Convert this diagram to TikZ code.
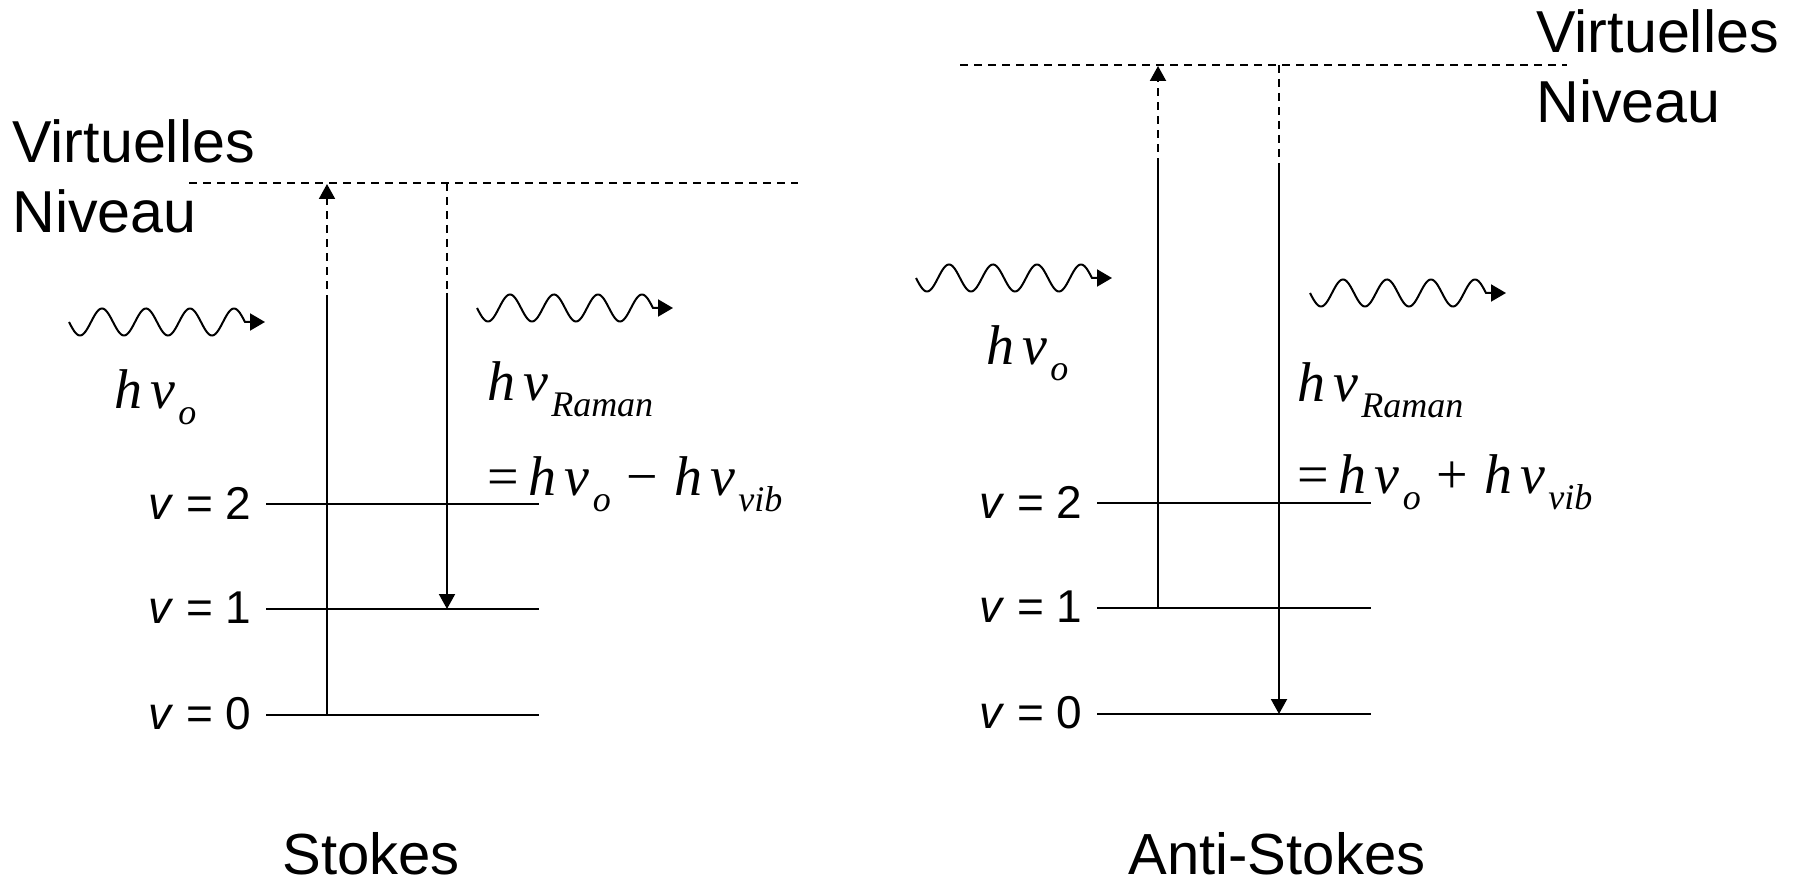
\documentclass[tikz,border=0pt]{standalone}
\usepackage{fontspec}
\setmainfont{Liberation Sans}
\newfontfamily\tms{Liberation Serif}
\usetikzlibrary{arrows.meta}
\newcommand\subl[1]{\raisebox{-8pt}{\fontsize{18}{21}\selectfont #1}}
\newcommand\hnu{h\hspace{4pt}ν\hspace{1.5pt}}
\newcommand\wavearrow[4]{%
  \coordinate (#3) at (#1,#2);
  \coordinate (#4) at (#1+196,#2);
  \draw[wave] plot[domain=0:176, samples=140, smooth] ({#1+\x},{#2+13.5*sin(8.1818*\x)}) -- (#4);}
\begin{document}
\begin{tikzpicture}[x={(0.5pt,0)}, y={(0,-0.5pt)},
  lvl/.style={line width=1pt},
  trans/.style={line width=1pt},
  virt/.style={line width=1pt, dash pattern=on 4pt off 3pt},
  tipA/.style={-{Triangle[length=7.5pt,width=8pt]}},
  wave/.style={line width=1pt, -{Triangle[length=7.5pt,width=8.5pt]}},
  lbl/.style={inner sep=0pt, anchor=east, font=\fontsize{23}{27}\selectfont},
  big/.style={inner sep=0pt, anchor=base west, font=\fontsize{29.6}{34}\selectfont},
  titletext/.style={inner sep=0pt, anchor=base, font=\fontsize{29}{34}\selectfont},
  mth/.style={inner sep=0pt, anchor=base west, font=\tms\itshape\fontsize{28}{32}\selectfont}]
\useasboundingbox (0,0) rectangle (1800,887);

% ---------------- Stokes (left) ----------------
\coordinate (LVa) at (189,183); \coordinate (LVb) at (798,183);
\draw[virt] (LVa) -- (LVb);
\node[big] (lvirt) at (12,163) {Virtuelles};
\node[big] (lniv) at (12,233) {Niveau};

\coordinate (L2a) at (266,504); \coordinate (L2b) at (539,504);
\coordinate (L1a) at (266,609); \coordinate (L1b) at (539,609);
\coordinate (L0a) at (266,715); \coordinate (L0b) at (539,715);
\draw[lvl] (L2a) -- (L2b);
\draw[lvl] (L1a) -- (L1b);
\draw[lvl] (L0a) -- (L0b);
\node[lbl] (l2) at (252,503) {\textit{v} = 2};
\node[lbl] (l1) at (252,608) {\textit{v} = 1};
\node[lbl] (l0) at (252,714) {\textit{v} = 0};

\coordinate (LU0) at (327,715); \coordinate (LUs) at (327,303); \coordinate (LUt) at (327,184);
\draw[trans] (LU0) -- (LUs);
\draw[virt,tipA] (LUs) -- (LUt);
\coordinate (LD0) at (447,183); \coordinate (LDs) at (447,293); \coordinate (LD1) at (447,609);
\draw[virt] (LD0) -- (LDs);
\draw[trans,tipA] (LDs) -- (LD1);

\wavearrow{69}{322}{lw1s}{lw1e}
\wavearrow{477}{308}{lw2s}{lw2e}

\node[mth] (lhv) at (114,409) {\hnu\subl{o}};
\node[mth] (lram) at (487,401) {\hnu\subl{Raman}};
\node[mth] (leq) at (487,496) {{\upshape=}\hspace{5pt}\hnu\subl{o}\hspace{8pt}{\upshape −}\hspace{8pt}\hnu\subl{vib}};

\node[titletext] (stokes) at (371,874) {Stokes};

% ---------------- Anti-Stokes (right) ----------------
\coordinate (RVa) at (960,65); \coordinate (RVb) at (1567,65);
\draw[virt] (RVa) -- (RVb);
\node[big] (rvirt) at (1536,53) {Virtuelles};
\node[big] (rniv) at (1536,123) {Niveau};

\coordinate (R2a) at (1097,503); \coordinate (R2b) at (1371,503);
\coordinate (R1a) at (1097,608); \coordinate (R1b) at (1371,608);
\coordinate (R0a) at (1097,714); \coordinate (R0b) at (1371,714);
\draw[lvl] (R2a) -- (R2b);
\draw[lvl] (R1a) -- (R1b);
\draw[lvl] (R0a) -- (R0b);
\node[lbl] (r2) at (1083,502) {\textit{v} = 2};
\node[lbl] (r1) at (1083,607) {\textit{v} = 1};
\node[lbl] (r0) at (1083,713) {\textit{v} = 0};

\coordinate (RU1) at (1158,608); \coordinate (RUs) at (1158,166); \coordinate (RUt) at (1158,66);
\draw[trans] (RU1) -- (RUs);
\draw[virt,tipA] (RUs) -- (RUt);
\coordinate (RD0) at (1279,65); \coordinate (RDs) at (1279,170); \coordinate (RD1) at (1279,714);
\draw[virt] (RD0) -- (RDs);
\draw[trans,tipA] (RDs) -- (RD1);

\wavearrow{916}{278}{rw1s}{rw1e}
\wavearrow{1310}{293}{rw2s}{rw2e}

\node[mth] (rhv) at (986,365) {\hnu\subl{o}};
\node[mth] (rram) at (1297,402) {\hnu\subl{Raman}};
\node[mth] (req) at (1297,494) {{\upshape=}\hspace{5pt}\hnu\subl{o}\hspace{8pt}{\upshape +}\hspace{8pt}\hnu\subl{vib}};

\node[titletext] (astokes) at (1277,874) {Anti-Stokes};
\end{tikzpicture}
\end{document}
